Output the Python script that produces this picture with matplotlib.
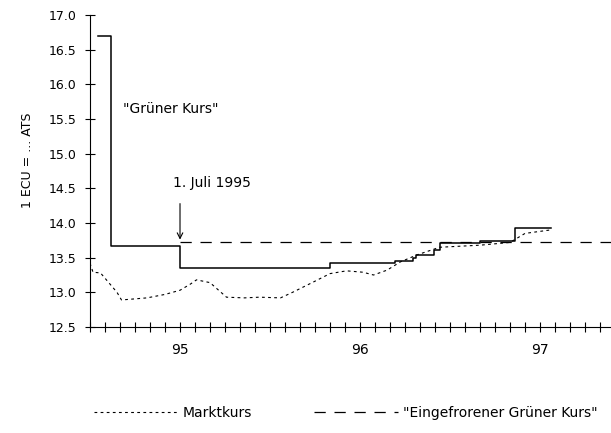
import numpy as np
import matplotlib
matplotlib.use("Agg")
import matplotlib.pyplot as plt

# x values = months since 1 Jan 1995
gruen_x = [0.5, 1.4, 6.0, 16.0, 20.3, 21.5, 21.7, 22.9, 23.3, 26.0, 28.3, 30.7]
gruen_y = [16.7, 13.67, 13.35, 13.42, 13.45, 13.49, 13.54, 13.61, 13.71, 13.74, 13.93, 13.93]

markt_x = [0.0, 0.2, 0.7, 1.8, 2.1, 3.8, 5.0, 6.0, 6.7, 7.1, 8.0, 9.1, 10.3, 11.3, 12.7,
           13.5, 14.9, 16.0, 17.1, 18.2, 18.9, 19.8, 20.7, 21.8, 23.3, 26.0, 28.0, 29.0, 30.7]
markt_y = [13.42, 13.29, 13.28, 13.0, 12.89, 12.92, 12.97, 13.03, 13.12, 13.18, 13.14, 12.93,
           12.92, 12.93, 12.92, 13.0, 13.15, 13.27, 13.31, 13.29, 13.25, 13.32, 13.44, 13.54,
           13.65, 13.68, 13.72, 13.85, 13.9]

frozen_x = [6.0, 34.8]
frozen_y = [13.72, 13.72]

year_labels = {6: "95", 18: "96", 30: "97"}
y_ticks = np.arange(12.5, 17.01, 0.5)

fig = plt.figure(figsize=(6.11, 4.33), dpi=100)
ax = fig.add_axes([90/611, 1-327/433, 1-90/611, (327-15)/433])

ax.step(gruen_x, gruen_y, where='post', color='black', lw=1.1)
ax.plot(markt_x, markt_y, color='black', lw=0.8, ls=(0, (2.5, 3)), label='Marktkurs')
ax.plot(frozen_x, frozen_y, color='black', lw=0.9, ls=(0, (9, 7)),
        label='"Eingefrorener Grüner Kurs"')

ax.set_xlim(0, 34.73)
ax.set_ylim(12.5, 17.0)
ax.spines['top'].set_visible(False)
ax.spines['right'].set_visible(False)

months = np.arange(0, 35)
ax.set_xticks(months)
ax.set_xticklabels([year_labels.get(m, "") for m in months], fontsize=10)
ax.tick_params(axis='x', direction='inout', length=7, width=0.8, pad=8)
ax.set_yticks(y_ticks)
ax.set_yticklabels(["%.1f" % v for v in y_ticks], fontsize=9)
ax.tick_params(axis='y', direction='inout', length=7, width=0.8, pad=6)

ax.text(2.2, 15.64, '"Grüner Kurs"', fontsize=10, va='center', ha='left')
ax.annotate('', xy=(6.0, 13.72), xytext=(6.0, 14.32),
            arrowprops=dict(arrowstyle='->', lw=0.8, color='black'))
ax.text(5.5, 14.58, '1. Juli 1995', fontsize=10, va='center', ha='left')

fig.text(28/611, 1-160/433, '1 ECU = ... ATS', rotation=90, fontsize=9,
         va='center', ha='center')

fig.legend(loc='center', bbox_to_anchor=(0.566, 0.046), ncol=2, frameon=False,
           fontsize=10, handlelength=6, handletextpad=0.4, columnspacing=4.5)

fig.savefig("out.png", dpi=100)
